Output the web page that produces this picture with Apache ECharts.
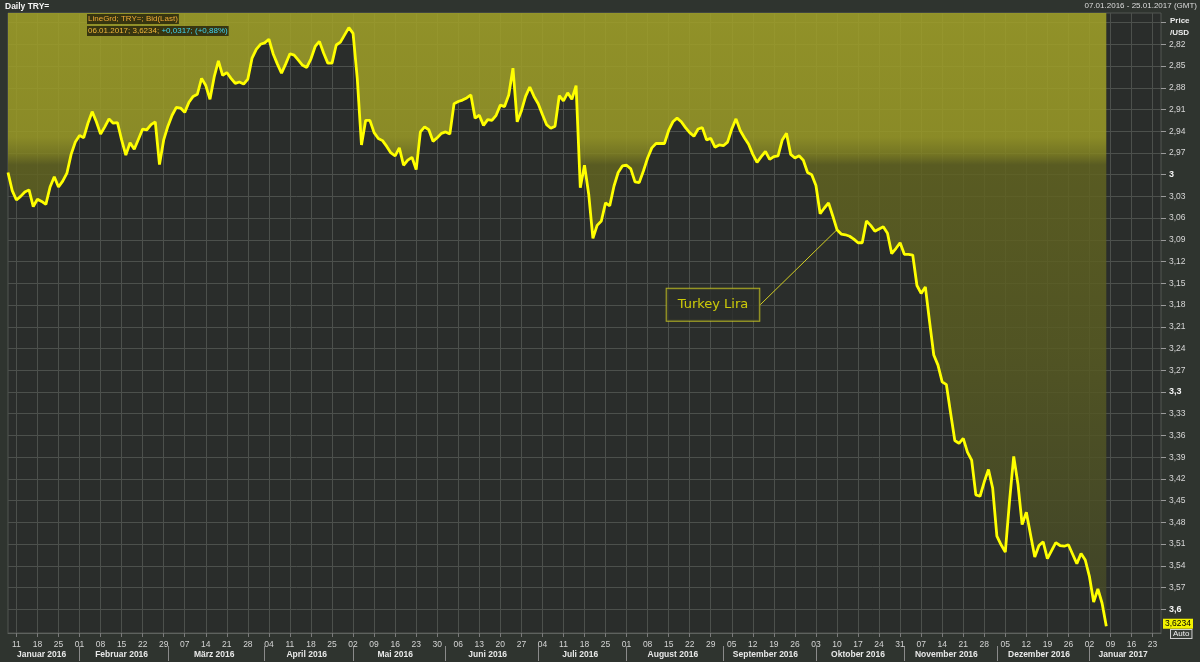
<!DOCTYPE html>
<html><head><meta charset="utf-8">
<script src="https://cdn.jsdelivr.net/npm/echarts@6/dist/echarts.min.js"></script>
<style>html,body{margin:0;padding:0;background:#2f342f;}#c{width:1200px;height:662px;}</style>
</head><body><div id="c"></div>
<script>
// ---- data ----
const START_DATE = '2016-01-07';
const END_DATE = '2017-01-25';
const MONTH_NAMES = ['Januar','Februar','März','April','Mai','Juni','Juli','August','September','Oktober','November','Dezember'];
// daily bid (TRY per USD), trading days from 07.01.2016 to 06.01.2017
const PRICE = [
2.997,3.022,3.035,3.030,3.024,3.021,3.044,3.034,3.037,3.041,
3.017,3.003,3.017,3.009,2.998,2.972,2.955,2.946,2.949,2.929,
2.913,2.927,2.944,2.934,2.923,2.929,2.928,2.952,2.973,2.956,
2.965,2.951,2.937,2.938,2.931,2.927,2.986,2.952,2.933,2.918,
2.907,2.908,2.914,2.900,2.892,2.889,2.867,2.877,2.896,2.865,
2.843,2.863,2.859,2.867,2.874,2.872,2.875,2.868,2.839,2.827,
2.820,2.818,2.813,2.833,2.847,2.860,2.847,2.833,2.835,2.842,
2.849,2.852,2.840,2.823,2.816,2.832,2.846,2.846,2.821,2.817,
2.807,2.797,2.805,2.867,2.959,2.925,2.925,2.942,2.950,2.953,
2.961,2.970,2.974,2.963,2.987,2.980,2.976,2.993,2.941,2.934,
2.938,2.954,2.949,2.943,2.941,2.944,2.902,2.899,2.897,2.894,
2.890,2.922,2.918,2.932,2.924,2.925,2.918,2.904,2.906,2.890,
2.853,2.927,2.912,2.892,2.879,2.892,2.902,2.917,2.931,2.936,
2.933,2.891,2.898,2.887,2.896,2.877,3.018,2.987,3.027,3.088,
3.070,3.064,3.039,3.043,3.016,2.997,2.988,2.987,2.992,3.010,
3.011,2.995,2.977,2.963,2.957,2.957,2.957,2.939,2.927,2.922,
2.927,2.935,2.942,2.947,2.937,2.935,2.952,2.950,2.962,2.959,
2.960,2.955,2.937,2.923,2.939,2.949,2.958,2.972,2.983,2.975,
2.968,2.979,2.975,2.974,2.952,2.943,2.972,2.977,2.974,2.980,
2.997,3.000,3.015,3.054,3.046,3.039,3.057,3.076,3.082,3.083,
3.085,3.089,3.094,3.094,3.064,3.070,3.078,3.075,3.072,3.081,
3.109,3.102,3.094,3.110,3.110,3.111,3.153,3.164,3.155,3.203,
3.249,3.263,3.286,3.290,3.329,3.367,3.371,3.364,3.383,3.394,
3.442,3.444,3.424,3.407,3.433,3.499,3.511,3.521,3.451,3.389,
3.427,3.483,3.466,3.497,3.528,3.512,3.507,3.530,3.519,3.508,
3.512,3.513,3.511,3.524,3.537,3.523,3.532,3.555,3.590,3.572,
3.5917,3.6234
];
const Y_TICK_MIN = 2.79, Y_TICK_MAX = 3.6, Y_TICK_STEP = 0.03;
const Y_BOLD_TICKS = [3, 3.3, 3.6];
const Y_DATA_MIN = 2.7768, Y_DATA_MAX = 3.6328;
const HEADER_LEFT = 'Daily TRY=';
const HEADER_RIGHT = '07.01.2016 - 25.01.2017 (GMT)';
const LEGEND_LINE1 = 'LineGrd; TRY=; Bid(Last)';
const LEGEND_LAST = '06.01.2017; 3,6234; ';
const LEGEND_CHANGE = '+0,0317; (+0,88%)';
const ANNOTATION_TEXT = 'Turkey Lira';
const ANNOTATION_DATE = '2016-10-10';

// ---- categories (trading days) ----
const dates = [];
for (let d = new Date(START_DATE + 'T00:00:00Z'); d <= new Date(END_DATE + 'T00:00:00Z'); d.setUTCDate(d.getUTCDate() + 1)) {
  const w = d.getUTCDay();
  if (w !== 0 && w !== 6) dates.push(d.toISOString().slice(0, 10));
}
const dow = i => new Date(dates[i] + 'T00:00:00Z').getUTCDay();
const isMonday = i => dow(i) === 1;
const monthKey = i => dates[i].slice(0, 7);
const monthStart = new Set(), monthMid = new Set();
{
  let a = 0;
  for (let i = 1; i <= dates.length; i++) {
    if (i === dates.length || monthKey(i) !== monthKey(i - 1)) {
      monthMid.add(Math.floor((a + i - 1) / 2));
      if (i < dates.length) monthStart.add(i);
      a = i;
    }
  }
}
const monthLabel = v => MONTH_NAMES[+v.slice(5, 7) - 1] + ' ' + v.slice(0, 4);
const fmtY = v => String(+v.toFixed(2)).replace('.', ',');
const annIdx = dates.indexOf(ANNOTATION_DATE);
const lastVal = PRICE[PRICE.length - 1];

const FONT = 'Liberation Sans';
const chart = echarts.init(document.getElementById('c'), null, {renderer: 'canvas'});

const fill = new echarts.graphic.LinearGradient(0, 13, 0, 633, [
  {offset: 0, color: 'rgba(162,162,40,0.86)'},
  {offset: 0.2, color: 'rgba(154,154,38,0.86)'},
  {offset: 0.228, color: 'rgba(130,131,34,0.84)'},
  {offset: 0.245, color: 'rgba(98,100,32,0.84)'},
  {offset: 0.55, color: 'rgba(88,91,34,0.84)'},
  {offset: 1, color: 'rgba(66,70,40,0.84)'}
], true);

chart.setOption({
  backgroundColor: '#2f342f',
  animation: false,
  grid: [
    {left: 8, right: 39, top: 13, bottom: 29, show: true, backgroundColor: '#2a2d2b', borderColor: '#525652', borderWidth: 1},
    {left: 8, right: 39, top: 22.57, bottom: 52.7, show: false}
  ],
  xAxis: [
    {
      type: 'category', gridIndex: 0, data: dates, boundaryGap: false, position: 'bottom',
      axisLine: {show: true, lineStyle: {color: '#5e625e'}},
      axisTick: {show: true, interval: i => isMonday(i), length: 4, lineStyle: {color: '#7a7a7a'}},
      axisLabel: {interval: i => isMonday(i), formatter: v => v.slice(8, 10), color: '#d4d4d4', fontSize: 8.5, fontFamily: FONT, margin: 7},
      splitLine: {show: true, interval: i => isMonday(i), lineStyle: {color: '#4c504c', width: 1}}
    },
    {
      type: 'category', gridIndex: 0, data: dates, boundaryGap: false, position: 'bottom', offset: 13,
      axisLine: {show: false},
      axisTick: {show: true, interval: i => monthStart.has(i), length: 15, lineStyle: {color: '#8a8a8a'}},
      axisLabel: {interval: i => monthMid.has(i), formatter: monthLabel, color: '#e8e8e8', fontSize: 8.5, fontWeight: 'bold', fontFamily: FONT, margin: 4},
      splitLine: {show: false}
    },
    {type: 'category', gridIndex: 1, show: false, data: ['a']}
  ],
  yAxis: [
    {type: 'value', gridIndex: 0, inverse: true, min: Y_DATA_MIN, max: Y_DATA_MAX, show: false, splitLine: {show: false}},
    {
      type: 'value', gridIndex: 1, inverse: true, position: 'right',
      min: Y_TICK_MIN, max: Y_TICK_MAX, interval: Y_TICK_STEP,
      axisLine: {show: false, onZero: false},
      axisTick: {show: true, length: 5, lineStyle: {color: '#9a9a9a'}},
      axisLabel: {
        margin: 8, fontFamily: FONT, fontSize: 8.5, color: '#d8d8d8',
        formatter: v => (v < 2.8 ? '' : (Y_BOLD_TICKS.some(m => Math.abs(m - v) < 1e-6) ? '{b|' + fmtY(v) + '}' : fmtY(v))),
        rich: {b: {fontWeight: 'bold', color: '#f4f4f4', fontSize: 9, fontFamily: FONT}}
      },
      splitLine: {show: true, lineStyle: {color: '#4c504c', width: 1}}
    }
  ],
  series: [
    {
      type: 'line', xAxisIndex: 0, yAxisIndex: 0, data: PRICE, silent: true,
      showSymbol: false, smooth: false,
      lineStyle: {color: '#ffff00', width: 2.8},
      areaStyle: {origin: 'start', color: fill, opacity: 1},
      markLine: {
        silent: true, symbol: 'none', animation: false,
        lineStyle: {color: 'rgba(0,0,0,0)', width: 1},
        label: {
          position: 'end', distance: 2, formatter: () => lastVal.toFixed(4).replace('.', ','),
          backgroundColor: '#f2f200', color: '#000', fontFamily: FONT, fontSize: 8.5, padding: [1, 2, 0, 2]
        },
        data: [{yAxis: lastVal}]
      }
    },
    {
      type: 'scatter', xAxisIndex: 0, yAxisIndex: 0, silent: true,
      symbolSize: 1, itemStyle: {color: 'rgba(0,0,0,0)'},
      data: [[annIdx, PRICE[annIdx]]],
      label: {
        show: true, formatter: ANNOTATION_TEXT, color: '#f4f000', fontFamily: 'DejaVu Sans', fontSize: 13,
        backgroundColor: '#2a2d2a', borderColor: '#d2ce22', borderWidth: 1, padding: [10, 11, 9, 11]
      },
      labelLine: {show: true, lineStyle: {color: '#d2ce22', width: 1}},
      labelLayout: p => ({
        x: p.rect.x + p.rect.width / 2 - 124, y: p.rect.y + p.rect.height / 2 + 75,
        align: 'center', verticalAlign: 'middle'
      })
    }
  ],
  graphic: [
    {type: 'text', z: 100, left: 5, top: 2, style: {text: HEADER_LEFT, fill: '#f4f4f4', font: 'bold 8.5px "Liberation Sans"'}},
    {type: 'text', z: 100, right: 3, top: 2, style: {text: HEADER_RIGHT, fill: '#dcdcdc', font: '8px "Liberation Sans"'}},
    {type: 'text', z: 100, left: 87, top: 14, style: {text: LEGEND_LINE1, fill: '#f0aa38', font: '8px "Liberation Sans"', backgroundColor: 'rgba(48,46,14,0.92)', padding: [1, 1]}},
    {type: 'text', z: 100, left: 87, top: 26, style: {
      text: '{a|' + LEGEND_LAST + '}{b|' + LEGEND_CHANGE + '}', font: '8px "Liberation Sans"', backgroundColor: 'rgba(48,46,14,0.92)', padding: [1, 1],
      rich: {a: {fill: '#f0b63a', font: '8px "Liberation Sans"'}, b: {fill: '#3fd4f2', font: '8px "Liberation Sans"'}}
    }},
    {type: 'text', z: 100, left: 1170, top: 15, style: {text: 'Price\n/USD', fill: '#ececec', font: 'bold 8px "Liberation Sans"', lineHeight: 12}},
    {type: 'text', z: 100, left: 1170, top: 629, style: {text: 'Auto', fill: '#f0f0f0', font: '8px "Liberation Sans"', backgroundColor: '#3a3f3a', borderColor: '#d0d0d0', borderWidth: 1, padding: [0, 2]}}
  ]
});
</script>
</body></html>
